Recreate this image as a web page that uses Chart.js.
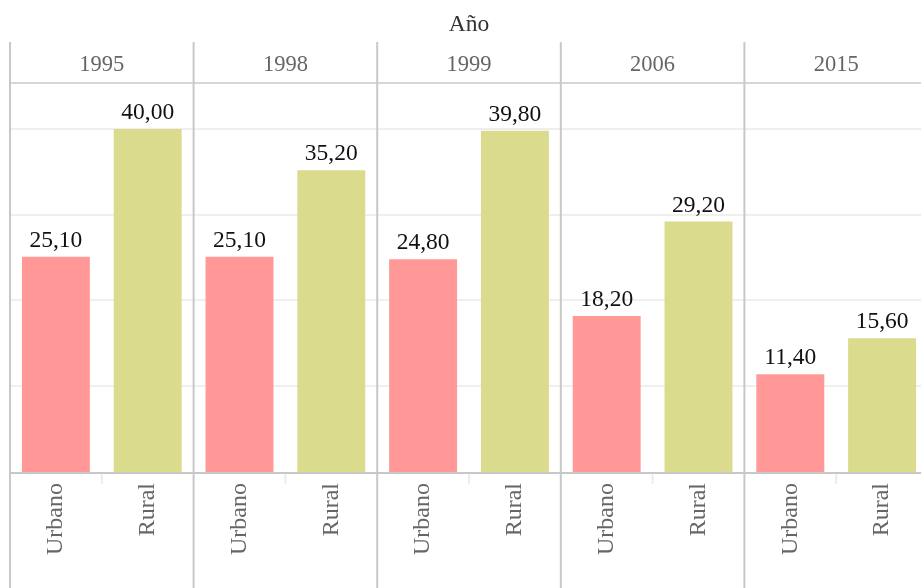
<!DOCTYPE html>
<html>
<head>
<meta charset="utf-8">
<script src="https://cdn.jsdelivr.net/npm/chart.js@4.4.1/dist/chart.umd.min.js"></script>
<style>
  html, body { margin: 0; padding: 0; background: #fff; overflow: hidden; }
  #wrap { width: 928px; height: 588px; }
</style>
</head>
<body>
<div id="wrap"><canvas id="c" width="928" height="588"></canvas></div>
<script>
const title = 'Año';
const years = ['1995', '1998', '1999', '2006', '2015'];
const areas = ['Urbano', 'Rural'];
const urbano = [25.1, 25.1, 24.8, 18.2, 11.4];
const rural = [40.0, 35.2, 39.8, 29.2, 15.6];
const gridTicks = [10, 20, 30, 40];

const colorUrbano = '#ff9896';
const colorRural = '#dbdb8d';

const labels = [];
const values = [];
const colors = [];
years.forEach((y, i) => {
  labels.push(areas[0]); values.push(urbano[i]); colors.push(colorUrbano);
  labels.push(areas[1]); values.push(rural[i]); colors.push(colorRural);
});

const FONT = "'Liberation Serif', 'Times New Roman', serif";

const decor = {
  id: 'decor',
  afterDatasetsDraw(chart) {
    const ctx = chart.ctx;
    const meta = chart.getDatasetMeta(0);
    ctx.save();
    ctx.font = '23.5px ' + FONT;
    ctx.fillStyle = '#111111';
    ctx.textAlign = 'center';
    ctx.textBaseline = 'alphabetic';
    meta.data.forEach((bar, i) => {
      const v = values[i];
      ctx.fillText(v.toFixed(2).replace('.', ','), bar.x, bar.y - 10);
    });
    ctx.restore();
  },
  afterDraw(chart) {
    const ctx = chart.ctx;
    const xs = chart.scales.x;
    const area = chart.chartArea;
    const H = chart.height;
    const n = labels.length;
    const step = (xs.getPixelForValue(1) - xs.getPixelForValue(0));
    ctx.save();
    // short ticks between categories inside panels
    ctx.strokeStyle = '#ececec';
    ctx.lineWidth = 2;
    for (let i = 0; i < n; i += 2) {
      const x = xs.getPixelForValue(i) + step / 2;
      ctx.beginPath(); ctx.moveTo(x, area.bottom); ctx.lineTo(x, area.bottom + 12); ctx.stroke();
    }
    // baseline
    ctx.strokeStyle = '#c8c8c8';
    ctx.lineWidth = 2;
    ctx.beginPath(); ctx.moveTo(area.left, area.bottom + 1); ctx.lineTo(area.right, area.bottom + 1); ctx.stroke();
    // header bottom line
    ctx.lineWidth = 1.5;
    ctx.beginPath(); ctx.moveTo(area.left, area.top); ctx.lineTo(area.right, area.top); ctx.stroke();
    // panel separators
    ctx.lineWidth = 2;
    for (let p = 0; p <= years.length; p++) {
      const x = xs.getPixelForValue(p * 2) - step / 2;
      ctx.beginPath(); ctx.moveTo(x, 42); ctx.lineTo(x, H); ctx.stroke();
    }
    // year headers
    ctx.font = '22.5px ' + FONT;
    ctx.fillStyle = '#666666';
    ctx.textAlign = 'center';
    ctx.textBaseline = 'alphabetic';
    years.forEach((y, p) => {
      const x = (xs.getPixelForValue(p * 2) + xs.getPixelForValue(p * 2 + 1)) / 2;
      ctx.fillText(y, x, 71);
    });
    // title
    ctx.font = '23.5px ' + FONT;
    ctx.fillStyle = '#333333';
    ctx.fillText(title, (area.left + area.right) / 2, 31);
    ctx.restore();
  }
};

new Chart(document.getElementById('c'), {
  type: 'bar',
  data: {
    labels: labels,
    datasets: [{
      data: values,
      backgroundColor: colors,
      borderWidth: 0,
      barPercentage: 0.74,
      categoryPercentage: 1.0
    }]
  },
  options: {
    responsive: false,
    animation: false,
    layout: { padding: { top: 83, left: 10, right: 0, bottom: 0 } },
    plugins: { legend: { display: false }, tooltip: { enabled: false } },
    scales: {
      x: {
        type: 'category',
        offset: true,
        grid: { display: false, drawTicks: false },
        border: { display: false },
        ticks: {
          minRotation: 90, maxRotation: 90,
          autoSkip: false,
          padding: 11,
          color: '#666666',
          font: { family: FONT, size: 24 }
        },
        afterFit(s) { s.height = 116; }
      },
      y: {
        min: 0,
        max: 45.36,
        border: { display: false },
        grid: { color: '#efefef', lineWidth: 2, drawTicks: false },
        ticks: { display: false },
        afterBuildTicks(s) { s.ticks = gridTicks.map(v => ({ value: v })); },
        afterFit(s) { s.width = 0; }
      }
    }
  },
  plugins: [decor]
});
</script>
</body>
</html>
